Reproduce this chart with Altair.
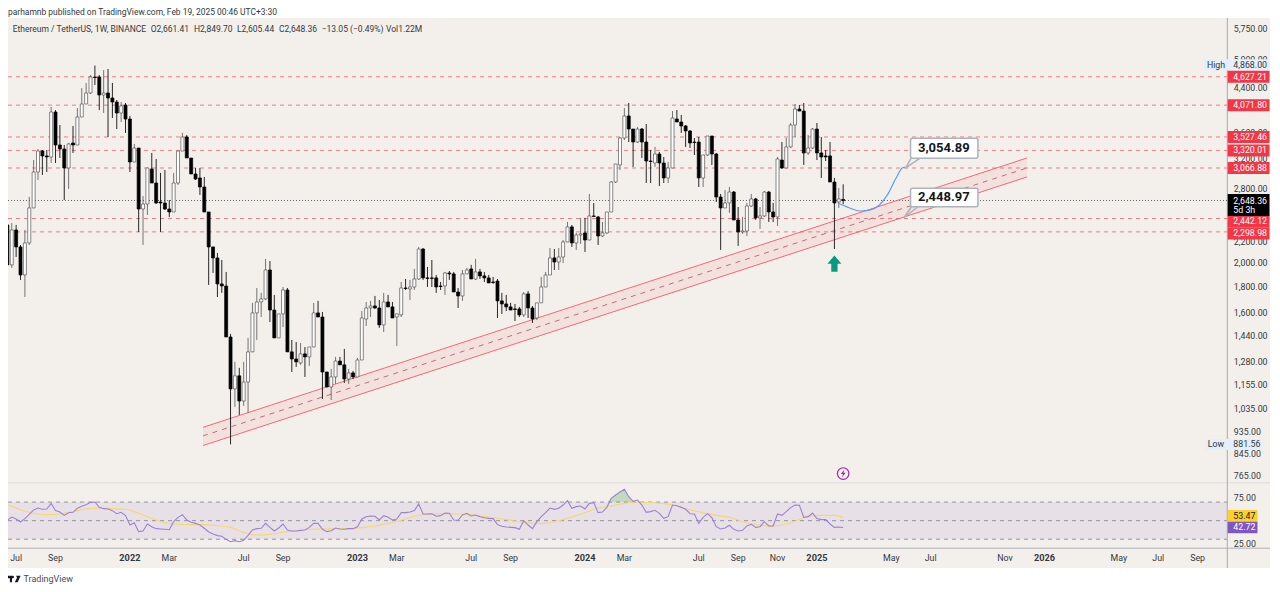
import altair as alt
import pandas as pd

# ---- weekly ETH/USDT candles ----
opens = [2372,1981,2319,2148,1893,2187,2561,3012,3311,3238,3223,3948,3402,3341,3067,3433,3402,3860,4093,4302,
4623,4623,4263,4302,4205,4130,3930,4075,3825,3151,3356,2549,2607,3053,2866,2631,2619,2549,2515,2866,
3311,3527,3208,2985,2932,2815,2515,2148,2044,1818,1801,1431,1132,1201,1072,1168,1338,1595,1676,1699,
1936,1616,1425,1588,1769,1338,1296,1273,1326,1308,1368,1595,1566,1222,1142,1195,1284,1262,1184,1217,
1195,1290,1552,1631,1646,1631,1511,1676,1639,1566,1581,1785,1777,1793,1859,2128,1868,1868,1868,1801,
1801,1910,1902,1753,1722,1902,1945,1859,1919,1885,1868,1834,1842,1684,1661,1639,1624,1624,1581,1738,
1631,1559,1669,1793,1893,2044,2007,2053,2197,2351,2187,2267,2288,2216,2470,2459,2257,2288,2515,2879,
3109,3511,3878,3656,3448,3656,3448,3165,3137,3267,3137,2932,3067,3825,3774,3707,3624,3448,3448,2932,
3252,3543,3267,2691,2561,2619,2752,2426,2298,2308,2584,2667,2448,2470,2752,2515,2459,3179,3067,3372,
3723,4001,3965,3282,3356,3656,3282,3238,3238,2879,2631,2661.41]
closes = [1981,2319,2148,1893,2187,2561,3012,3311,3238,3223,3948,3402,3341,3067,3418,3402,3860,4093,4302,4623,
4612,4263,4302,4205,4130,3930,4057,3825,3151,3356,2549,2607,3067,2866,2619,2619,2549,2515,2866,3311,
3527,3208,2985,2918,2815,2515,2148,2044,1818,1801,1431,1132,1201,1072,1168,1338,1595,1676,1699,1936,
1616,1425,1588,1769,1338,1296,1279,1326,1308,1368,1595,1566,1222,1142,1195,1284,1262,1184,1217,1195,
1290,1559,1631,1646,1631,1511,1676,1639,1559,1588,1785,1781,1793,1859,2128,1868,1864,1864,1793,1797,
1910,1902,1753,1722,1902,1936,1859,1919,1885,1868,1826,1830,1684,1661,1639,1616,1620,1581,1738,1631,
1552,1669,1793,1893,2044,2007,2053,2197,2351,2187,2267,2278,2216,2470,2465,2257,2288,2515,2879,3123,
3511,3878,3656,3448,3656,3448,3165,3158,3267,3137,2932,3067,3843,3774,3707,3624,3433,3440,2932,3252,
3543,3267,2691,2561,2619,2752,2426,2298,2308,2584,2667,2448,2470,2752,2515,2459,3194,3067,3372,3723,
4001,3965,3282,3356,3656,3282,3223,3223,2879,2619,2667,2648.36]
highs = [2426,2393,2372,2167,2319,2691,3179,3341,3326,3326,4038,3983,3723,3402,3433,3707,4020,4398,4500,4665,
4868,4665,4770,4792,4500,4167,4130,4112,3878,3418,3356,2703,3067,3282,3194,2999,3039,2654,2999,3311,
3592,3559,3208,3067,3067,2945,2515,2148,2091,2025,1919,1451,1279,1245,1279,1425,1669,1785,1746,2035,
2016,1730,1588,1793,1785,1412,1399,1393,1368,1368,1669,1684,1602,1222,1239,1308,1308,1356,1239,1228,
1302,1609,1676,1684,1722,1691,1746,1730,1676,1588,1834,1859,1851,1945,2148,2138,1963,2025,1893,1834,
1919,1927,1919,1785,1936,1954,1981,2035,1945,1919,1893,1876,1859,1746,1730,1669,1661,1639,1753,1761,
1646,1669,1876,1919,2138,2128,2138,2216,2404,2372,2288,2448,2448,2728,2619,2470,2404,2515,2892,3123,
3527,4020,4112,3656,3690,3673,3740,3326,3372,3296,3223,3151,3965,3983,3895,3723,3640,3511,3527,3252,
3543,3543,3282,2728,2777,2815,2765,2572,2459,2619,2728,2679,2572,2765,2765,2619,3223,3448,3511,3757,
4093,4075,4112,3559,3673,3757,3527,3326,3448,2932,2802,2849.70]
lows = [1707,1954,2053,1851,1714,2167,2561,2905,2972,3012,3137,3137,3208,2654,2790,3282,3402,3860,4093,4282,
4460,3983,3930,3527,3843,3656,3774,3592,3012,3151,2298,2167,2481,2866,2607,2298,2537,2459,2515,2841,
3311,3208,2985,2905,2716,2515,1810,1910,1714,1746,1431,881.56,1044,1007,1049,1016,1338,1412,1566,1691,
1531,1425,1425,1497,1338,1222,1250,1262,1195,1256,1368,1566,1082,1142,1077,1158,1262,1163,1158,1184,
1195,1290,1504,1566,1624,1491,1464,1639,1559,1374,1566,1769,1691,1769,1851,1851,1793,1793,1746,1769,
1730,1851,1753,1631,1684,1902,1859,1851,1859,1834,1826,1818,1559,1588,1609,1616,1538,1566,1566,1559,
1525,1545,1669,1793,1893,1936,1936,1998,2197,2148,2119,2177,2100,2216,2459,2167,2247,2278,2515,2866,
3039,3479,3448,3081,3433,3208,2866,2866,3081,2828,2866,2866,3067,3774,3592,3372,3356,3252,2815,2815,
3238,3109,2631,2119,2561,2504,2426,2158,2278,2257,2572,2426,2329,2459,2404,2404,2361,3053,3067,3356,
3527,3965,3109,3252,3341,3179,2932,3165,2879,2128,2561,2605.44]

rsi_values = [50.7,53.9,51.8,48.6,52.2,56.8,61.5,63.6,62.2,62.5,68.6,60.8,59.3,55.7,58.6,59.0,63.3,65.4,67.2,69.7,
70.1,64.3,62.9,62.5,60.8,57.5,59.0,55.4,45.3,47.8,38.2,38.9,46.4,43.5,41.4,41.0,40.7,40.3,48.9,53.6,
56.5,50.7,48.2,47.1,45.3,41.8,37.8,35.7,33.9,33.2,29.9,27.4,28.5,27.4,28.9,34.2,40.0,41.4,41.8,47.1,
42.8,38.9,42.1,46.4,40.0,38.9,38.9,39.6,40.0,42.8,47.1,47.1,40.7,38.2,39.2,42.1,41.0,40.7,41.4,41.4,
43.5,51.8,54.3,55.0,54.7,50.7,55.4,53.6,50.7,51.8,58.6,58.6,59.3,60.8,67.9,57.2,57.2,
57.5,54.7,55.4,58.2,57.9,50.7,50.4,56.1,57.9,55.0,56.1,54.3,53.2,52.5,52.2,45.7,43.9,43.2,42.8,42.5,
40.7,50.0,45.3,41.4,48.9,54.3,58.6,63.6,62.2,63.3,66.8,71.5,63.3,65.1,65.8,62.5,68.6,69.4,58.6,59.3,
64.3,74.0,77.6,80.8,83.7,75.8,70.8,72.2,66.8,59.0,59.7,61.1,57.9,52.5,54.3,66.8,66.1,64.3,62.2,57.5,
57.2,47.1,53.6,57.5,53.2,43.5,41.0,42.1,45.0,40.7,38.9,39.6,44.3,46.1,42.8,43.5,48.9,44.3,44.3,57.2,
55.7,59.7,64.0,66.8,66.5,53.6,54.3,58.2,52.2,51.1,51.1,46.4,42.8,43.2,42.72]

ma_weeks = list(range(0, 190, 3)) + [191]
ma_values = [67.2,61.8,57.9,56.5,57.2,59.7,62.5,63.6,62.9,62.2,57.9,52.5,47.8,46.1,45.7,45.7,44.6,42.8,37.5,34.6,
35.3,37.5,38.9,40.7,41.0,41.4,41.4,42.5,44.3,47.1,50.4,54.7,57.2,
57.5,57.2,56.8,55.0,53.2,51.1,48.9,47.1,47.1,50.0,53.9,58.6,63.6,65.8,68.6,70.1,69.4,68.3,65.8,61.5,
58.6,55.7,53.6,48.9,46.1,43.9,45.3,49.3,54.7,55.7,55.7,53.47]

over_weeks = [137.3,138,139,140,141,142,142.8]
over_values = [70,74.0,77.6,80.8,83.7,75.8,70]

level_prices = [4627.21,4071.80,3527.46,3320.01,3066.88,2442.12,2298.98]
last_price = 2648.36

channel_weeks = [44.7,233.0]
channel_upper = [952,3208]
channel_mid = [916,3067]
channel_lower = [877,2945]

path_weeks = [189.8,192.5,194.8,197,199.3,201.1,203.1,204.5,205.2]
path_prices = [2619,2561,2526,2537,2596,2716,2932,3067,3081]

price_ticks = [5750,5000,4400,3600,3200,2800,2200,2000,1800,1600,1440,1280,1155,1035,935,845,765]
rsi_ticks = [25,75]
time_ticks = ["2021-07-05","2021-09-06","2022-01-03","2022-03-07","2022-07-04","2022-09-05","2023-01-02","2023-03-06",
"2023-07-03","2023-09-04","2024-01-01","2024-03-04","2024-07-01","2024-09-02","2024-11-04","2025-01-06",
"2025-05-05","2025-07-07","2025-11-03","2026-01-05","2026-05-04","2026-07-06","2026-09-07"]
time_names = ["Jul","Sep","2022","Mar","Jul","Sep","2023","Mar","Jul","Sep","2024","Mar","Jul","Sep","Nov","2025",
"May","Jul","Nov","2026","May","Jul","Sep"]

header_texts = ["Ethereum / TetherUS, 1W, BINANCE","O2,661.41","H2,849.70","L2,605.44","C2,648.36","\u221213.05 (\u22120.49%)","Vol1.22M"]
header_left = [4.7,142.7,186,229,271,313.7,378]

tag_anchor = [4627.21,4071.80,3527.46,3320.01,3066.88,2410,2283]
tag_text = ["4,627.21","4,071.80","3,527.46","3,320.01","3,066.88","2,442.12","2,298.98"]

# ---- helpers ----
START = pd.Timestamp("2021-06-21")
W, H = 1264, 576
AXIS_X = 1219.3
FONT = "Roboto"
TXT = "#333842"
PANEL = "#f3f0eb"
RED = "#f7525f"


def wk(w):
    return (START + pd.Timedelta(days=float(w) * 7)).strftime("%Y-%m-%dT%H:%M:%SZ")


x_scale = alt.Scale(type="utc", domain=["2021-06-22T00:00:00Z", "2027-01-04T00:00:00Z"], nice=False, padding=0)
p_scale = alt.Scale(type="log", domain=[744, 6032.6], range=[474, 10], nice=False)
r_scale = alt.Scale(type="linear", domain=[20.6, 90.5], range=[540, 475], nice=False, zero=False)


def X(f="d", axis=None):
    return alt.X(f"{f}:T", scale=x_scale, axis=axis, title=None)


def P(f, axis=None):
    return alt.Y(f"{f}:Q", scale=p_scale, axis=axis, title=None)


def R(f, axis=None):
    return alt.Y(f"{f}:Q", scale=r_scale, axis=axis, title=None)


one = pd.DataFrame({"k": [0]})


def box(x, x2, y, y2, color):
    return alt.Chart(one).mark_rect(color=color).encode(
        x=alt.value(x), x2=alt.value(x2), y=alt.value(y), y2=alt.value(y2))


def label(s, x, y, size=8.8, color=TXT, weight="normal", align="left"):
    return alt.Chart(one).mark_text(text=s, font=FONT, fontSize=size, color=color, fontWeight=weight,
                                    align=align, baseline="middle").encode(x=alt.value(x), y=alt.value(y))


weeks = list(range(len(closes)))
candles = pd.DataFrame({
    "d": [wk(w) for w in weeks], "o": opens, "h": highs, "l": lows, "c": closes,
})
candles["fill"] = ["#ffffff" if c > o or (w in (190,)) else "#000000" for w, o, c in zip(weeks, opens, closes)]
candles["line"] = ["#555555" if f == "#ffffff" else "#000000" for f in candles["fill"]]
candles["wick"] = ["#666666" if f == "#ffffff" else "#111111" for f in candles["fill"]]

rsi_df = pd.DataFrame({"d": [wk(w) for w in weeks], "v": rsi_values})
ma_df = pd.DataFrame({"d": [wk(w) for w in ma_weeks], "v": ma_values})
over_df = pd.DataFrame({"d": [wk(w) for w in over_weeks], "v": over_values, "b": [70] * len(over_weeks)})
chan_df = pd.DataFrame({"d": [wk(w) for w in channel_weeks], "u": channel_upper, "m": channel_mid, "l": channel_lower})
path_df = pd.DataFrame({"d": [wk(w) for w in path_weeks], "p": path_prices})
lev_df = pd.DataFrame({"p": level_prices})
tag_df = pd.DataFrame({"p": tag_anchor, "t": tag_text})
time_df = pd.DataFrame({"d": [t + "T00:00:00Z" for t in time_ticks], "t": time_names})
time_df["year"] = time_df["t"].str.isdigit()

layers = []
# white page strips around the panel
layers += [box(0, W, 0, 10, "#ffffff"), box(0, W, 560, H, "#ffffff"), box(1262, W, 0, H, "#ffffff")]

# pane furniture
layers.append(alt.Chart(pd.DataFrame({"a": [70], "b": [30]})).mark_rect(color="#7e57c2", opacity=0.1).encode(
    x=alt.value(0), x2=alt.value(AXIS_X), y=R("a"), y2=alt.Y2("b")))
layers.append(alt.Chart(pd.DataFrame({"v": [70, 50, 30]})).mark_rule(color="#787b86", strokeDash=[4, 4], strokeWidth=0.9, opacity=0.85).encode(
    x=alt.value(0), x2=alt.value(AXIS_X),
    y=R("v", axis=alt.Axis(orient="right", offset=-(W - AXIS_X), values=rsi_ticks, format=".2f", domain=False, ticks=False,
                           grid=False, labelFont=FONT, labelFontSize=8.8, labelColor=TXT, labelPadding=6,
                           labelOverlap=False, labelBound=False, labelFlush=False))))
layers.append(alt.Chart(one).mark_rule(color="#e2e2e0", strokeWidth=1.5).encode(x=alt.value(0), x2=alt.value(1262), y=alt.value(474.7)))
layers.append(alt.Chart(one).mark_rule(color="#aeb0b8", strokeWidth=1).encode(x=alt.value(0), x2=alt.value(1262), y=alt.value(540.2)))
layers.append(alt.Chart(one).mark_rule(color="#a8a9b0", strokeWidth=1).encode(x=alt.value(AXIS_X), y=alt.value(10), y2=alt.value(560)))

# time labels
layers.append(alt.Chart(time_df[~time_df["year"]]).mark_text(font=FONT, fontSize=8.8, color=TXT, baseline="middle").encode(
    x=X(), y=alt.value(549.7), text="t:N"))
layers.append(alt.Chart(time_df[time_df["year"]]).mark_text(font=FONT, fontSize=9.2, fontWeight="bold", color=TXT, baseline="middle").encode(
    x=X(), y=alt.value(549.7), text="t:N"))

# horizontal levels
layers.append(alt.Chart(lev_df).mark_rule(color=RED, strokeDash=[4, 4], strokeWidth=1, opacity=0.75).encode(
    x=alt.value(0), x2=alt.value(AXIS_X),
    y=P("p", axis=alt.Axis(orient="right", offset=-(W - AXIS_X), values=price_ticks, format=",.2f", domain=False, ticks=False,
                           grid=False, labelFont=FONT, labelFontSize=8.8, labelColor=TXT, labelPadding=6,
                           labelOverlap=False, labelBound=False, labelFlush=False))))
layers.append(alt.Chart(pd.DataFrame({"p": [last_price]})).mark_rule(color="#131722", strokeDash=[1, 2], strokeWidth=0.9, opacity=0.7).encode(
    x=alt.value(0), x2=alt.value(AXIS_X), y=P("p")))

# channel
layers.append(alt.Chart(chan_df).mark_area(color=RED, opacity=0.09).encode(x=X(), y=P("u"), y2=alt.Y2("l")))
layers.append(alt.Chart(chan_df).mark_line(color=RED, strokeWidth=1, opacity=0.85).encode(x=X(), y=P("u")))
layers.append(alt.Chart(chan_df).mark_line(color=RED, strokeWidth=1, opacity=0.85).encode(x=X(), y=P("l")))
layers.append(alt.Chart(chan_df).mark_line(color="#bf6f78", strokeWidth=1, strokeDash=[5, 5]).encode(x=X(), y=P("m")))

# candles
layers.append(alt.Chart(candles).mark_rule(strokeWidth=0.9).encode(
    x=X(), y=P("l"), y2=alt.Y2("h"), color=alt.Color("wick:N", scale=None)))
layers.append(alt.Chart(candles).mark_bar(size=3, strokeWidth=0.7).encode(
    x=X(), y=P("o"), y2=alt.Y2("c"), fill=alt.Fill("fill:N", scale=None), stroke=alt.Stroke("line:N", scale=None)))

# RSI
layers.append(alt.Chart(over_df).mark_area(color="#4caf50", opacity=0.3).encode(x=X(), y=R("v"), y2=alt.Y2("b")))
layers.append(alt.Chart(ma_df).mark_line(color="#f5d76e", strokeWidth=1.1, interpolate="monotone").encode(x=X(), y=R("v")))
layers.append(alt.Chart(rsi_df).mark_line(color="#9b82d4", strokeWidth=1.1).encode(x=X(), y=R("v")))

# forecast path and callouts
layers.append(alt.Chart(path_df).mark_line(color="#5b9cf6", strokeWidth=1.2, interpolate="monotone").encode(x=X(), y=P("p")))
tail_df = pd.DataFrame({
    "d": [wk(w) for w in [206.5, 205.3, 208.5, 206.6, 204.9, 208.1]],
    "p": [3204, 3067, 3204, 2575, 2451, 2575],
    "g": ["a", "a", "a", "b", "b", "b"],
    "o": [0, 1, 2, 0, 1, 2],
})
layers.append(alt.Chart(tail_df).mark_line(color="#aeb2bc", strokeWidth=1.5).encode(
    x=X(), y=P("p"), detail="g:N", order="o:Q"))
call_df = pd.DataFrame({"a": [wk(206.4)] * 2, "b": [wk(221.8)] * 2, "t": [3506, 2798], "u": [3204, 2575],
                        "m": [wk(214.0)] * 2, "c": [3352, 2685], "s": ["3,054.89", "2,448.97"]})
layers.append(alt.Chart(call_df).mark_rect(fill="#ffffff", stroke="#aeb2bc", strokeWidth=1.5, cornerRadius=2).encode(
    x=X("a"), x2=alt.X2("b"), y=P("t"), y2=alt.Y2("u")))
layers.append(alt.Chart(call_df).mark_text(font=FONT, fontSize=13, fontWeight="bold", color="#131722").encode(
    x=X("m"), y=P("c"), text="s:N"))

# markers
arrow = "M0,-1.15 L1,0 L0.45,0 L0.45,1.15 L-0.45,1.15 L-0.45,0 L-1,0 Z"
layers.append(alt.Chart(pd.DataFrame({"d": [wk(189)], "p": [1992]})).mark_point(
    shape=arrow, size=196, filled=True, color="#089981", opacity=1).encode(x=X(), y=P("p")))
icon_df = pd.DataFrame({"d": [wk(191)], "p": [773]})
layers.append(alt.Chart(icon_df).mark_point(shape="circle", size=133, filled=False, color="#9c27b0", strokeWidth=1.2, opacity=1).encode(x=X(), y=P("p")))
bolt = "M0.3,-1 L-0.6,0.15 L-0.05,0.15 L-0.3,1 L0.6,-0.2 L0.05,-0.2 Z"
layers.append(alt.Chart(icon_df).mark_point(shape=bolt, size=64, filled=True, color="#9c27b0", opacity=1).encode(x=X(), y=P("p")))

# price tags on the scale
layers.append(alt.Chart(pd.DataFrame({"p": [4886]})).mark_rule(color="#e3effb", strokeWidth=11).encode(
    x=alt.value(1196), x2=alt.value(1261.5), y=P("p")))
layers.append(alt.Chart(pd.DataFrame({"p": [881.56]})).mark_rule(color="#e3effb", strokeWidth=11).encode(
    x=alt.value(1197), x2=alt.value(1254), y=P("p")))
layers.append(alt.Chart(tag_df).mark_rule(color="#f23645", strokeWidth=12).encode(
    x=alt.value(AXIS_X + 0.4), x2=alt.value(1261.5), y=P("p")))
layers.append(alt.Chart(pd.DataFrame({"p": [2596]})).mark_rule(color="#000000", strokeWidth=22).encode(
    x=alt.value(AXIS_X + 0.4), x2=alt.value(1261.5), y=P("p")))
layers.append(alt.Chart(tag_df).mark_text(font=FONT, fontSize=8.8, color="#ffffff", align="left", baseline="middle").encode(
    x=alt.value(AXIS_X + 6), y=P("p"), text="t:N"))
layers.append(alt.Chart(pd.DataFrame({"p": [2648.36, 2543], "t": ["2,648.36", "5d 3h"]})).mark_text(
    font=FONT, fontSize=8.8, color="#ffffff", align="left", baseline="middle").encode(
    x=alt.value(AXIS_X + 6), y=P("p"), text="t:N"))
layers.append(alt.Chart(pd.DataFrame({"p": [4886, 881.56], "t": ["4,868.00", "881.56"]})).mark_text(
    font=FONT, fontSize=8.8, color=TXT, align="left", baseline="middle").encode(
    x=alt.value(AXIS_X + 6), y=P("p"), text="t:N"))
layers.append(alt.Chart(pd.DataFrame({"p": [4886, 881.56], "t": ["High", "Low"]})).mark_text(
    font=FONT, fontSize=8.8, color=TXT, align="center", baseline="middle").encode(
    x=alt.value(1208), y=P("p"), text="t:N"))

# RSI tags
layers.append(alt.Chart(pd.DataFrame({"v": [55.3]})).mark_rule(color="#fbd02f", strokeWidth=11.6).encode(
    x=alt.value(AXIS_X + 0.4), x2=alt.value(1249.5), y=R("v")))
layers.append(alt.Chart(pd.DataFrame({"v": [42.72]})).mark_rule(color="#7e57c2", strokeWidth=11.6).encode(
    x=alt.value(AXIS_X + 0.4), x2=alt.value(1249.5), y=R("v")))
layers.append(alt.Chart(pd.DataFrame({"v": [55.3], "t": ["53.47"]})).mark_text(font=FONT, fontSize=8.8, color="#222222", align="left", baseline="middle").encode(
    x=alt.value(AXIS_X + 6), y=R("v"), text="t:N"))
layers.append(alt.Chart(pd.DataFrame({"v": [42.72], "t": ["42.72"]})).mark_text(font=FONT, fontSize=8.8, color="#ffffff", align="left", baseline="middle").encode(
    x=alt.value(AXIS_X + 6), y=R("v"), text="t:N"))

# header, footer
layers.append(label("parhamnb published on TradingView.com, Feb 19, 2025 00:46 UTC+3:30", 0, 4.4, size=8.45))
for s, x in zip(header_texts, header_left):
    layers.append(label(s, x, 21.2, size=8.5))
logo = "M-1,-0.5 L-0.3,-0.5 L-0.3,0.5 L-0.62,0.5 L-0.62,-0.1 L-1,-0.1 Z M-0.2,-0.5 A0.16,0.16 0 1 1 -0.2,-0.1 A0.16,0.16 0 1 1 -0.2,-0.5 Z M0.3,-0.5 L1,-0.5 L0.55,0.5 L0.12,0.5 L0.46,-0.2 Z"
layers.append(alt.Chart(one).mark_point(shape=logo, size=177, filled=True, color="#131722", opacity=1).encode(
    x=alt.value(6), y=alt.value(571)))
layers.append(label("TradingView", 15.5, 571, size=9, color="#4a4e57"))

chart = alt.layer(*layers).resolve_scale(y="independent").properties(
    width=W, height=H, padding=0, background=PANEL,
    autosize=alt.AutoSizeParams(type="none"),
).configure_view(strokeWidth=0)

chart.save("out.html", embed_options={"renderer": "svg", "actions": False})
